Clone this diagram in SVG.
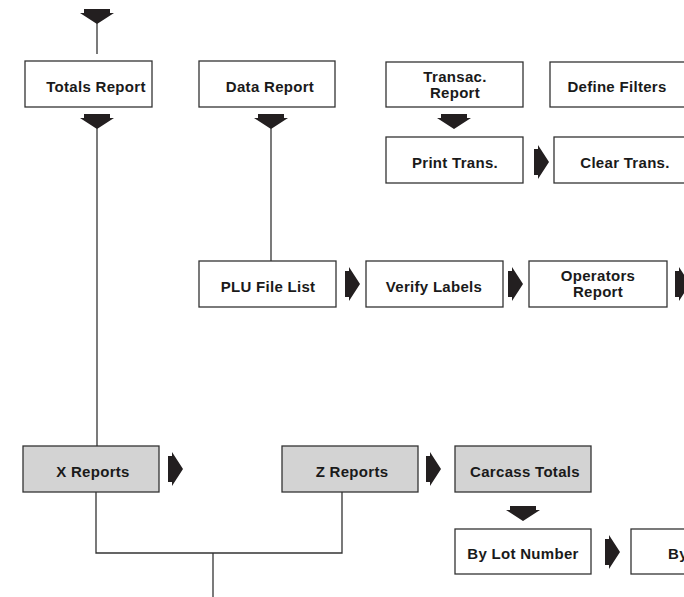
<svg xmlns="http://www.w3.org/2000/svg" xmlns:xlink="http://www.w3.org/1999/xlink" width="684" height="597" viewBox="0 0 684 597">
<style>
.box{fill:#fff;stroke:#333;stroke-width:1.3}
.grey{fill:#d3d3d3}
.lbl{font-family:"Liberation Sans",Arial,sans-serif;font-weight:bold;font-size:15px;letter-spacing:0.3px;fill:#1a1a1a;text-anchor:middle}
.ln{fill:none;stroke:#333;stroke-width:1.3}
.ar{fill:#231f20}
</style>
<defs>
<path id="ad" class="ar" d="M-13,0 H13 V4 H17 L0,15 L-17,4 H-13 Z"/>
<path id="arr" class="ar" d="M0,-13 H4 V-17 L15,0 L4,17 V13 H0 Z"/>
</defs>
<rect width="684" height="597" fill="#fff"/>
<g id="connectors">
<use xlink:href="#ad" x="97" y="9"/>
<line class="ln" x1="97" y1="23" x2="97" y2="54"/>
<use xlink:href="#ad" x="97" y="114"/>
<line class="ln" x1="97" y1="128" x2="97" y2="446"/>
<use xlink:href="#ad" x="271" y="114"/>
<line class="ln" x1="271" y1="128" x2="271" y2="261"/>
<use xlink:href="#ad" x="454" y="114"/>
<use xlink:href="#arr" x="534" y="162"/>
<use xlink:href="#arr" x="345" y="284"/>
<use xlink:href="#arr" x="508" y="284"/>
<use xlink:href="#arr" x="675" y="284"/>
<use xlink:href="#arr" x="168" y="469"/>
<use xlink:href="#arr" x="426" y="469"/>
<use xlink:href="#ad" x="523" y="506"/>
<use xlink:href="#arr" x="605" y="552"/>
<polyline class="ln" points="96,492 96,553 342,553 342,492"/>
<line class="ln" x1="213" y1="553" x2="213" y2="597"/>
</g>
<g id="totals-report"><rect class="box" x="25" y="61" width="127" height="46"/><text class="lbl" x="96" y="92">Totals Report</text></g>
<g id="data-report"><rect class="box" x="199" y="61" width="136" height="46"/><text class="lbl" x="270" y="92">Data Report</text></g>
<g id="transac-report"><rect class="box" x="386" y="62" width="137" height="45"/><text class="lbl" x="455" y="82">Transac.</text><text class="lbl" x="455" y="98">Report</text></g>
<g id="define-filters"><rect class="box" x="550" y="62" width="137" height="45"/><text class="lbl" x="617" y="92">Define Filters</text></g>
<g id="print-trans"><rect class="box" x="386" y="137" width="137" height="46"/><text class="lbl" x="455" y="168">Print Trans.</text></g>
<g id="clear-trans"><rect class="box" x="554" y="137" width="137" height="46"/><text class="lbl" x="625" y="168">Clear Trans.</text></g>
<g id="plu-file-list"><rect class="box" x="199" y="261" width="137" height="46"/><text class="lbl" x="268" y="292">PLU File List</text></g>
<g id="verify-labels"><rect class="box" x="366" y="261" width="137" height="46"/><text class="lbl" x="434" y="292">Verify Labels</text></g>
<g id="operators-report"><rect class="box" x="529" y="261" width="138" height="46"/><text class="lbl" x="598" y="281">Operators</text><text class="lbl" x="598" y="297">Report</text></g>
<g id="x-reports"><rect class="box grey" x="23" y="446" width="136" height="46"/><text class="lbl" x="93" y="477">X Reports</text></g>
<g id="z-reports"><rect class="box grey" x="282" y="446" width="136" height="46"/><text class="lbl" x="352" y="477">Z Reports</text></g>
<g id="carcass-totals"><rect class="box grey" x="455" y="446" width="136" height="46"/><text class="lbl" x="525" y="477">Carcass Totals</text></g>
<g id="by-lot-number"><rect class="box" x="455" y="529" width="136" height="45"/><text class="lbl" x="523" y="559">By Lot Number</text></g>
<g id="by-next"><rect class="box" x="631" y="529" width="137" height="45"/><text class="lbl" x="668" y="559" style="text-anchor:start">By</text></g>
</svg>
